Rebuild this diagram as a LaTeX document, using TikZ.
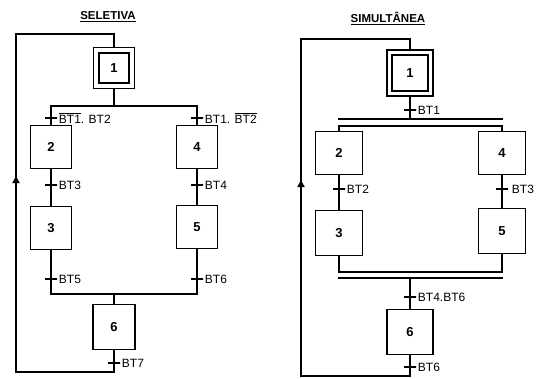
\documentclass[tikz,border=0pt]{standalone}
\usepackage{amsmath}
\usepackage{fontspec}
\setmainfont{Liberation Sans}
\setsansfont{Liberation Sans}
\usetikzlibrary{positioning,arrows.meta,calc}
\tikzset{
  stepbox/.style={draw, line width=1.6pt, minimum width=41pt, minimum height=43pt, inner sep=0pt, font=\fontsize{13}{14}\selectfont\bfseries},
  initstep/.style={stepbox, double, line width=1.4pt, double distance=3.8pt, minimum width=35.5pt, minimum height=35.5pt, outer sep=3.3pt},
  transbar/.style={draw, line width=1.5pt, minimum width=12pt, minimum height=0pt, inner sep=0pt},
  translbl/.style={font=\fontsize{12}{13}\selectfont, inner sep=1pt},
  link/.style={line width=1.5pt},
  titlelbl/.style={font=\fontsize{11.5}{13}\selectfont\bfseries}
}
\begin{document}
\begin{tikzpicture}[x=1pt,y=-1pt]
\useasboundingbox (0,0) rectangle (536,378);
% SELETIVA
\node[titlelbl] (Ltitle) at (108,17) {\underline{SELETIVA}};
\node[initstep] (L1) at (114,68) {1};
\node[stepbox] (L2) at (51,147) {2};
\node[stepbox] (L3) at (51,228) {3};
\node[stepbox] (L4) at (197,147) {4};
\node[stepbox] (L5) at (197,227) {5};
\node[stepbox, minimum width=42pt, minimum height=45pt] (L6) at (114,327) {6};
\coordinate (Ldiv) at (114,106);
\coordinate (Lconv) at (114,294);
\coordinate (Lc1) at (16,372);
\coordinate (Lc2) at (16,34);
\draw[link] (L1) -- (Ldiv);
\draw[link] (L2.north) |- (Ldiv) -| (L4.north);
\draw[link] (L2) -- (L3);
\draw[link] (L4) -- (L5);
\draw[link] (L3.south) |- (Lconv) -| (L5.south);
\draw[link] (Lconv) -- (L6);
\draw[link] (L6) |- (Lc1) -- (Lc2) -| (L1);
\draw[link, -{Latex[length=8pt,width=8pt]}] (16,192) -- (16,175);
\node[transbar, label={[translbl]right:$\overline{\text{BT1}}$. BT2}] (Lt1) at (51,118) {};
\node[transbar, label={[translbl]right:BT1. $\overline{\text{BT2}}$}] (Lt2) at (197,118) {};
\node[transbar, label={[translbl]right:BT3}] (Lt3) at (51,185) {};
\node[transbar, label={[translbl]right:BT4}] (Lt4) at (197,185) {};
\node[transbar, label={[translbl]right:BT5}] (Lt5) at (51,279) {};
\node[transbar, label={[translbl]right:BT6}] (Lt6) at (197,279) {};
\node[transbar, label={[translbl]right:BT7}] (Lt7) at (114,363) {};
% SIMULTANEA
\node[titlelbl] (Rtitle) at (388,19) {\underline{SIMULTÂNEA}};
\node[initstep, minimum width=41pt, minimum height=41pt] (R1) at (410,73) {1};
\node[stepbox, minimum width=47pt] (R2) at (339,153) {2};
\node[stepbox, minimum width=47pt, minimum height=45pt] (R3) at (339,233) {3};
\node[stepbox, minimum width=47pt] (R4) at (502,153) {4};
\node[stepbox, minimum width=47pt, minimum height=45pt] (R5) at (502,231) {5};
\node[stepbox, minimum width=46pt, minimum height=45pt] (R6) at (410,332) {6};
\coordinate (Rbar1) at (410,119);
\coordinate (Rbar1a) at (338,119);
\coordinate (Rbar1b) at (503,119);
\coordinate (Rdiv) at (410,126);
\coordinate (Rconv) at (410,272);
\coordinate (Rbar2) at (410,278);
\coordinate (Rbar2a) at (338,278);
\coordinate (Rbar2b) at (503,278);
\coordinate (Rc1) at (301,376);
\coordinate (Rc2) at (301,39);
\draw[link] (R1) -- (Rbar1);
\draw[link] (Rbar1a) -- (Rbar1b);
\draw[link] (R2.north) |- (Rdiv) -| (R4.north);
\draw[link] (R2) -- (R3);
\draw[link] (R4) -- (R5);
\draw[link] (R3.south) |- (Rconv) -| (R5.south);
\draw[link] (Rbar2a) -- (Rbar2b);
\draw[link] (Rbar2) -- (R6);
\draw[link] (R6) |- (Rc1) -- (Rc2) -| (R1);
\draw[link, -{Latex[length=8pt,width=8pt]}] (301,196) -- (301,179);
\node[transbar, label={[translbl]right:BT1}] (Rt1) at (410,110) {};
\node[transbar, label={[translbl]right:BT2}] (Rt2) at (339,189) {};
\node[transbar, label={[translbl, xshift=2pt]right:BT3}] (Rt3) at (502,189) {};
\node[transbar, label={[translbl]right:BT4.BT6}] (Rt4) at (410,297) {};
\node[transbar, label={[translbl]right:BT6}] (Rt5) at (410,367) {};
\end{tikzpicture}
\end{document}
